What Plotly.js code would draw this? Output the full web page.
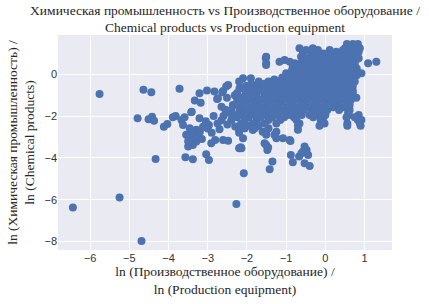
<!DOCTYPE html>
<html><head><meta charset="utf-8">
<script src="https://cdn.plot.ly/plotly-3.0.1.min.js"></script>
<style>html,body{margin:0;padding:0;background:#fff}#c{width:429px;height:304px}</style>
</head><body><div id="c"></div>
<script>
// Sparse outlying points
const sparseX = [-6.44,-5.25,-4.69,-4.33,-3.57,-3.38,-3.04,-2.97,-2.27,-2.08,-1.42,-1.35,-5.76,-4.64,-4.44,-3.72,-4.79,-4.51,-4.42,-4.37,-4.12,-4.03,-3.89,-3.82];
const sparseY = [-6.38,-5.90,-7.98,-4.05,-3.97,-4.07,-3.83,-4.10,-6.21,-4.74,-4.55,-4.18,-0.94,-0.74,-0.86,-0.69,-2.11,-2.15,-2.03,-2.22,-2.51,-2.38,-2.06,-2.00];
// Middle band of points
const bandX = [-3.67,-3.59,-3.63,-3.46,-3.41,-3.33,-3.18,-3.21,-3.02,-2.83,-2.76,-2.61,-2.53,-2.48,-2.63,-2.51,-2.27,-2.19,-2.74,-3.21,-3.12,-3.29,-3.42,-3.29,-3.50,-3.38,-2.70,-2.91,-2.81,-2.61,-2.48,-2.20,-2.97,-3.42,-3.55,-3.45,-3.35,-3.25,-3.20,-3.40,-3.15,-3.50,-2.65,-2.55,-2.45,-2.35,-2.60,-2.40,-2.50,-2.30,-2.65,-2.85,-3.05,-3.00,-2.90,-2.75,-2.20,-2.14,-2.16,-1.51,-1.46,-1.55,-0.89,-0.88,-0.83,-0.67,-0.61,-0.53,-0.48,-0.44,-0.53,-0.40,-0.57,-1.48,-1.25,-1.08,-0.91,-2.10,-2.20,-2.06,-1.85];
const bandY = [-2.19,-2.06,-2.43,-2.58,-1.79,-1.26,-1.36,-0.91,-0.78,-0.83,-1.18,-0.80,-0.59,-0.51,-0.86,-1.12,-1.04,-0.67,-1.15,-2.11,-2.51,-2.66,-3.06,-3.22,-3.46,-3.38,-2.63,-3.30,-3.14,-3.14,-3.18,-3.54,-2.43,-1.82,-2.90,-3.00,-2.80,-2.95,-2.75,-2.70,-3.10,-3.20,-1.55,-1.70,-1.85,-1.95,-2.00,-2.20,-2.40,-2.50,-2.20,-2.00,-2.25,-2.60,-2.80,-2.35,-2.80,-3.54,-3.49,-3.38,-3.51,-3.30,-3.19,-3.86,-4.21,-3.94,-3.78,-3.46,-3.62,-3.86,-4.26,-4.39,-3.70,-3.62,-3.06,-3.06,-3.14,-3.06,-2.66,-2.58,-2.66];
// Dense cluster, read row by row (row value = y, list = x values)
const coreY = [1.45,1.35,1.24,1.16,1.08,1.00,0.92,0.84,0.77,0.68,0.60,0.53,0.44,0.36,0.28,0.20,0.12,0.05,-0.05,-0.15,-0.19,-0.25,-0.35,-0.45,-0.55,-0.67,-0.78,-0.90,-1.00,-1.12,-1.23,-1.35,-1.47,-1.58,-1.71,-1.82,-1.95,-2.06,-2.19,-2.35,-2.46,-2.58,-2.66,-2.75,-2.90];
const coreX = [
 [0.55,0.70,0.83],
 [0.62,0.78],
 [-0.66,-0.32,0.50,0.88],
 [-0.49,-0.19,0.11,0.45,0.70],
 [-0.57,-0.23,0.28,0.60,0.85],
 [-0.57,-0.05,0.20,0.38],
 [-0.36,-0.15,0.05,0.55,0.80],
 [-1.51,-0.62,-0.36,-0.10,0.15,0.32,0.48,0.68],
 [-1.52,-0.50,-0.25,0.00,0.25,0.62,0.85],
 [-1.04,-0.40,-0.12,0.10,0.40,0.55,0.78],
 [-1.17,-0.91,-0.60,-0.30,-0.05,0.22,0.45,0.70,1.30],
 [-1.51,-0.78,-0.50,-0.20,0.05,0.30,0.60,1.09],
 [-1.51,-0.83,-0.65,-0.35,-0.10,0.15,0.38,0.55,0.75],
 [-0.83,-0.55,-0.25,0.00,0.25,0.48,0.68],
 [-0.72,-0.45,-0.15,0.10,0.35,0.58,0.80],
 [-0.85,-0.60,-0.30,-0.05,0.20,0.45,0.70],
 [-0.70,-0.45,-0.18,0.05,0.30,0.55,0.78],
 [-1.00,-0.80,-0.55,-0.30,-0.05,0.20,0.42,0.65,0.92],
 [-0.90,-0.65,-0.40,-0.15,0.10,0.35,0.58,0.80],
 [-1.10,-0.78,-0.50,-0.25,0.00,0.25,0.50,0.72],
 [-2.10,-1.90,-0.91,-0.66],
 [-1.30,-1.00,-0.70,-0.40,-0.10,0.15,0.40,0.65],
 [-2.20,-1.70,-1.45,-1.20,-0.85,-0.55,-0.25,0.05,0.30,0.55,0.75],
 [-1.89,-1.55,-1.30,-1.05,-0.75,-0.45,-0.15,0.15,0.40,0.65],
 [-2.02,-1.75,-1.40,-1.15,-0.90,-0.60,-0.30,0.00,0.25,0.50,0.70],
 [-2.14,-1.85,-1.60,-1.30,-1.00,-0.70,-0.40,-0.10,0.20,0.45,0.62],
 [-2.00,-1.70,-1.45,-1.15,-0.85,-0.55,-0.25,0.05,0.30,0.55,0.70],
 [-2.25,-1.90,-1.55,-1.25,-0.95,-0.65,-0.35,-0.05,0.25,0.50,0.70],
 [-2.31,-2.05,-1.75,-1.40,-1.10,-0.80,-0.50,-0.20,0.10,0.40,0.62],
 [-2.15,-1.85,-1.55,-1.25,-0.95,-0.65,-0.35,-0.05,0.25,0.50,0.79],
 [-2.25,-1.95,-1.65,-1.35,-1.05,-0.75,-0.45,-0.15,0.15,0.40,0.65],
 [-2.05,-1.75,-1.45,-1.15,-0.85,-0.55,-0.25,0.05,0.30,0.55],
 [-2.36,-2.10,-1.80,-1.50,-1.20,-0.90,-0.60,-0.30,0.00,0.25,0.62],
 [-2.20,-1.90,-1.60,-1.30,-1.00,-0.70,-0.40,-0.10,0.20,0.45],
 [-2.40,-2.05,-1.75,-1.45,-1.15,-0.85,-0.55,-0.23,0.05,0.35,0.62],
 [-2.20,-1.90,-1.60,-1.30,-1.00,-0.70,-0.35,-0.10,0.58],
 [-2.10,-1.80,-1.50,-1.20,-0.90,-0.60,-0.40,-0.15,0.00,0.60,0.85],
 [-2.25,-1.95,-1.65,-1.35,-1.05,-0.80,-0.31,-0.05,0.54,0.75],
 [-2.05,-1.75,-1.45,-1.15,-0.74,-0.12,0.83,0.92],
 [-2.15,-1.85,-1.55,-1.25,-0.66,-0.02,0.56,0.88],
 [-2.00,-1.70,-0.70,-0.15,0.56,0.90],
 [-2.06,-1.80,-1.45],
 [-2.19,-1.85,-0.70],
 [-1.60,-1.51,-1.25],
 [-1.51,-1.30]
];

const xs = [...sparseX, ...bandX];
const ys = [...sparseY, ...bandY];
coreY.forEach((yv, i) => coreX[i].forEach(xv => { xs.push(xv); ys.push(yv); }));

const serif = 'Liberation Serif, Times New Roman, serif';
const sans = 'Liberation Sans, Arial, sans-serif';

Plotly.newPlot('c', [{
  type: 'scatter', mode: 'markers', x: xs, y: ys,
  marker: {color: '#4C72B0', size: 8, line: {width: 0}},
  hoverinfo: 'skip'
}], {
  width: 429, height: 304,
  margin: {l: 58, r: 37, t: 35, b: 54},
  paper_bgcolor: '#ffffff', plot_bgcolor: '#EAEAF2',
  showlegend: false,
  title: {text: 'Химическая промышленность vs Производственное оборудование /<br>Chemical products vs Production equipment',
          font: {family: serif, size: 13.5, color: '#262626'}, x: 0.5, xref: 'paper', y: 0.952, yref: 'container', yanchor: 'top'},
  xaxis: {range: [-6.82, 1.70], tickvals: [-6,-5,-4,-3,-2,-1,0,1], ticktext: ['−6','−5','−4','−3','−2','−1','0','1'],
          showgrid: true, gridcolor: '#ffffff', gridwidth: 1, zeroline: false, showline: false, ticks: '',
          tickfont: {family: sans, size: 11, color: '#333'},
          title: {text: 'ln (Производственное оборудование) /<br>ln (Production equipment)', font: {family: serif, size: 13.5, color: '#262626'}, standoff: 2}},
  yaxis: {range: [-8.41, 1.88], tickvals: [-8,-6,-4,-2,0], ticktext: ['−8','−6','−4','−2','0'],
          showgrid: true, gridcolor: '#ffffff', gridwidth: 1, zeroline: false, showline: false, ticks: '',
          tickfont: {family: sans, size: 11, color: '#333'},
          title: {text: 'ln (Химическая промышленность) /<br>ln (Chemical products)', font: {family: serif, size: 13.5, color: '#262626'}, standoff: 6}}
}, {displayModeBar: false, staticPlot: true});
</script></body></html>
